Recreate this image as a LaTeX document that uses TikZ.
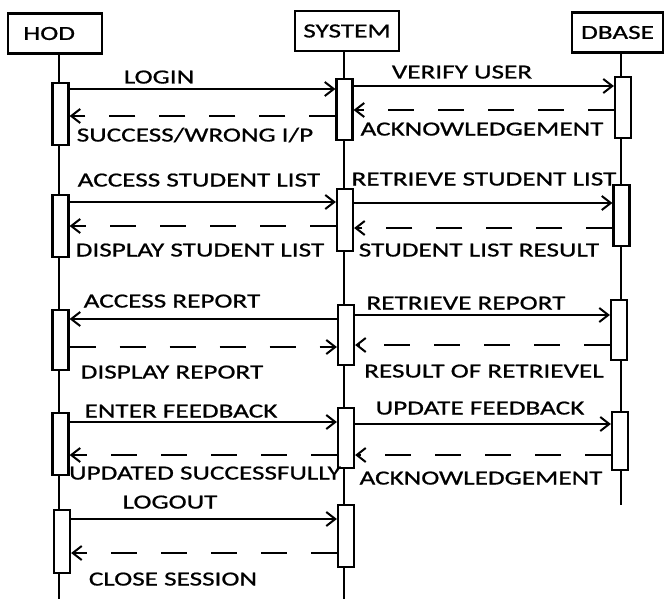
\documentclass[tikz,border=0pt]{standalone}
\usepackage{fontspec}
\setmainfont{Carlito}[FakeStretch=1.36, FakeBold=0.8]
\usetikzlibrary{positioning, arrows.meta}

\begin{document}
\begin{tikzpicture}[x=1pt, y=-1pt, font=\fontsize{20}{24}\selectfont,
	head/.style = { rectangle, draw=black, line width=2.4pt, fill=white,
	minimum height=40pt, inner sep=0pt },
	act/.style = { rectangle, draw=black, line width=2.2pt, fill=white,
	minimum width=16pt, inner sep=0pt },
	life/.style = { line width=2.4pt },
	msg/.style = { line width=2pt, -{Straight Barb[length=9pt, width=14pt]} },
	ret/.style = { msg, dash pattern=on 26pt off 24pt },
	lbl/.style = { inner sep=0pt, text height=13pt, text depth=0pt } ]

  \useasboundingbox (0,0) rectangle (666,599);

  % heads
  \node [name=hod, head, minimum width=94pt] at (55,33.5) {};
  \node [name=hodText, anchor=west, xshift=13pt] at (hod.west) { HOD };
  \node [name=sys, head, minimum width=104pt] at (347,31) { SYSTEM };
  \node [name=db, head, minimum width=91pt] at (617.5,32.5) { DBASE };

  % lifelines
  \coordinate (hodx) at (59,0);
  \coordinate (sysx) at (344,0);
  \coordinate (dbx) at (621,0);
  \draw [life] (hodx |- hod.south) -- (hodx |- 0,599);
  \draw [life] (sysx |- sys.south) -- (sysx |- 0,599);
  \draw [life] (dbx |- db.south) -- (dbx |- 0,505);

  % activations
  \node [name=h1, act, minimum height=62pt] at (60.5,114) {};
  \node [name=h2, act, minimum height=62pt] at (60.5,226) {};
  \node [name=h3, act, minimum height=60pt] at (60.5,340) {};
  \node [name=h4, act, minimum height=62pt] at (60.5,444) {};
  \node [name=h5, act, minimum height=63pt] at (62,541.5) {};
  \node [name=s1, act, minimum height=61pt] at (344.5,109.5) {};
  \node [name=s2, act, minimum height=62pt] at (345,220) {};
  \node [name=s3, act, minimum height=60pt] at (346,335) {};
  \node [name=s4, act, minimum height=60pt] at (346,438) {};
  \node [name=s5, act, minimum height=62pt] at (346,536) {};
  \node [name=d1, act, minimum height=61pt] at (623,107.5) {};
  \node [name=d2, act, minimum height=61pt] at (621.5,215.5) {};
  \node [name=d3, act, minimum height=60pt] at (619,330) {};
  \node [name=d4, act, minimum height=58pt] at (620,441) {};

  % message levels
  \coordinate (y1) at (0,89);   \coordinate (y2) at (0,116);
  \coordinate (y3) at (0,86);   \coordinate (y4) at (0,110);
  \coordinate (y5) at (0,202);  \coordinate (y6) at (0,226);
  \coordinate (y7) at (0,203);  \coordinate (y8) at (0,228);
  \coordinate (y9) at (0,319);  \coordinate (y10) at (0,347);
  \coordinate (y11) at (0,315); \coordinate (y12) at (0,345);
  \coordinate (y13) at (0,422); \coordinate (y14) at (0,455);
  \coordinate (y15) at (0,424); \coordinate (y16) at (0,455);
  \coordinate (y17) at (0,519); \coordinate (y18) at (0,553);

  % messages
  \draw [msg] (h1.east |- y1) -- (s1.west |- y1);
  \draw [ret] (s1.west |- y2) -- (h1.east |- y2);
  \draw [msg] (s1.east |- y3) -- (d1.west |- y3);
  \draw [ret] (d1.west |- y4) -- (s1.east |- y4);
  \draw [msg] (h2.east |- y5) -- (s2.west |- y5);
  \draw [ret] (s2.west |- y6) -- (h2.east |- y6);
  \draw [msg] (s2.east |- y7) -- (d2.west |- y7);
  \draw [ret] (d2.west |- y8) -- (s2.east |- y8);
  \draw [msg] (s3.west |- y9) -- (h3.east |- y9);
  \draw [ret] (h3.east |- y10) -- (s3.west |- y10);
  \draw [msg] (s3.east |- y11) -- (d3.west |- y11);
  \draw [ret] (d3.west |- y12) -- (s3.east |- y12);
  \draw [msg] (h4.east |- y13) -- (s4.west |- y13);
  \draw [ret] (s4.west |- y14) -- (h4.east |- y14);
  \draw [msg] (s4.east |- y15) -- (d4.west |- y15);
  \draw [ret] (d4.west |- y16) -- (s4.east |- y16);
  \draw [msg] (h5.east |- y17) -- (s5.west |- y17);
  \draw [ret] (s5.west |- y18) -- (h5.east |- y18);

  % labels
  \node [name=tLogin, lbl] at (159,77) { LOGIN };
  \node [name=tSucc, lbl] at (195,135) { SUCCESS/WRONG I/P };
  \node [name=tVerify, lbl] at (462,72) { VERIFY USER };
  \node [name=tAck, lbl] at (482,129) { ACKNOWLEDGEMENT };
  \node [name=tAccList, lbl] at (199,180) { ACCESS STUDENT LIST };
  \node [name=tDispList, lbl] at (200,250) { DISPLAY STUDENT LIST };
  \node [name=tRetList, lbl] at (484,179) { RETRIEVE STUDENT LIST };
  \node [name=tListRes, lbl] at (479,250) { STUDENT LIST RESULT };
  \node [name=tAccRep, lbl] at (172,301) { ACCESS REPORT };
  \node [name=tDispRep, lbl] at (172,372) { DISPLAY REPORT };
  \node [name=tRetRep, lbl] at (466,303) { RETRIEVE REPORT };
  \node [name=tRepRes, lbl] at (484,371) { RESULT OF RETRIEVEL };
  \node [name=tEnterFb, lbl] at (181,411) { ENTER FEEDBACK };
  \node [name=tUpdOk, lbl] at (205,473) { UPDATED SUCCESSFULLY };
  \node [name=tUpdFb, lbl] at (480,408) { UPDATE FEEDBACK };
  \node [name=tAck2, lbl] at (481,478) { ACKNOWLEDGEMENT };
  \node [name=tLogout, lbl] at (170,502) { LOGOUT };
  \node [name=tClose, lbl] at (173,579) { CLOSE SESSION };
\end{tikzpicture}
\end{document}
